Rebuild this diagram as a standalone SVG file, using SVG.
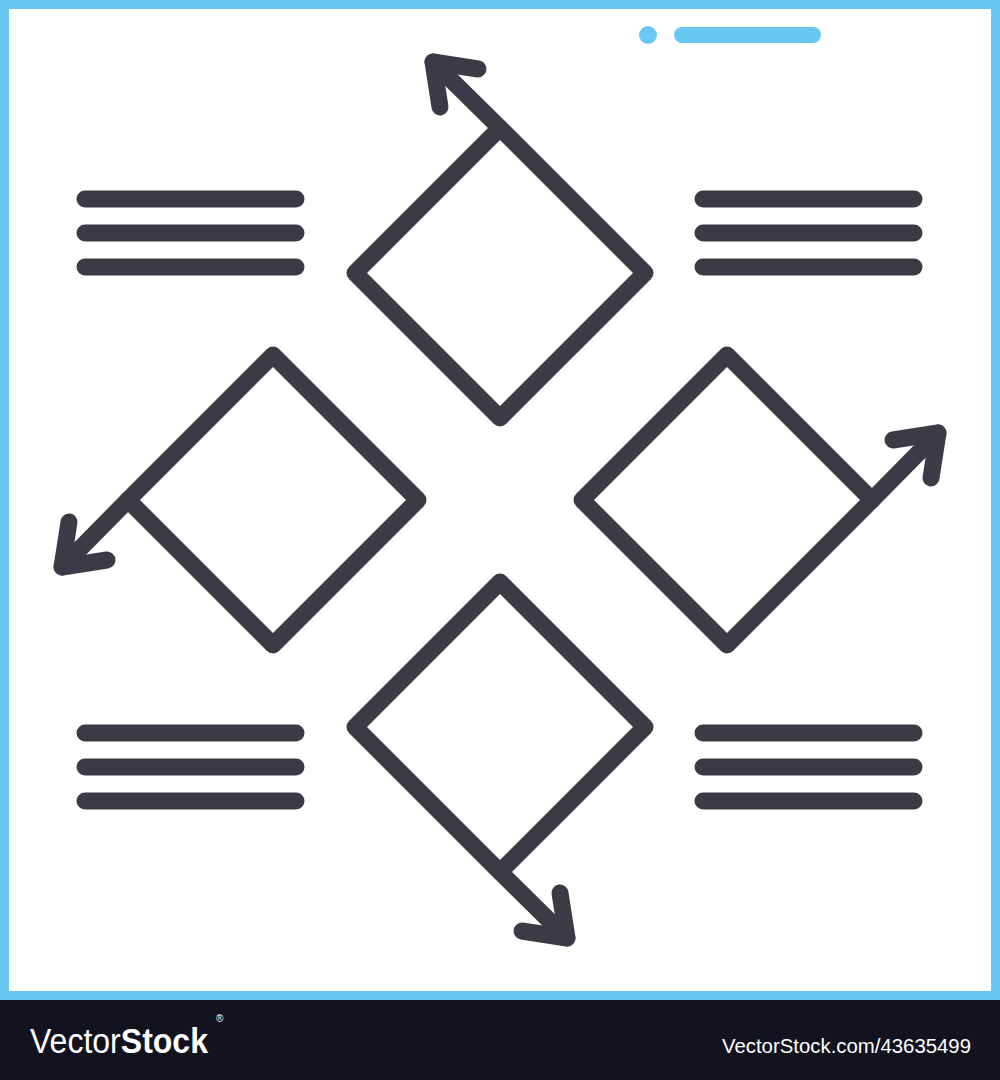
<svg xmlns="http://www.w3.org/2000/svg" width="1000" height="1080" viewBox="0 0 1000 1080">
<style>
.ln{fill:none;stroke:#3c3a45;stroke-width:17;stroke-linecap:round;stroke-linejoin:round}
.bl{fill:#68c8f2}
.ft{font-family:"Liberation Sans",Arial,sans-serif;fill:#ffffff}
</style>
<defs>
<g id="txt"><line x1="85" y1="0" x2="296" y2="0"/><line x1="85" y1="34" x2="296" y2="34"/><line x1="85" y1="68" x2="296" y2="68"/></g>
</defs>
<rect x="4.5" y="4.5" width="991" height="991" fill="#ffffff" stroke="#68c8f2" stroke-width="9"/>
<circle class="bl" cx="648" cy="35" r="9"/>
<rect class="bl" x="674" y="27" width="147" height="16" rx="8"/>
<g id="node-top" class="ln"><polygon points="500,128 645,273 500,418 355,273"/></g>
<g id="node-right" class="ln"><polygon points="727,355 872,500 727,645 582,500"/></g>
<g id="node-bottom" class="ln"><polygon points="500,582 645,727 500,872 355,727"/></g>
<g id="node-left" class="ln"><polygon points="273,355 418,500 273,645 128,500"/></g>
<g id="connectors" class="ln">
<g id="arrow-top"><line x1="500" y1="128" x2="433" y2="62"/><polyline points="478,69 433,62 440,107"/></g>
<g id="arrow-right" transform="rotate(90 500 500)"><line x1="500" y1="128" x2="433" y2="62"/><polyline points="478,69 433,62 440,107"/></g>
<g id="arrow-bottom" transform="rotate(180 500 500)"><line x1="500" y1="128" x2="433" y2="62"/><polyline points="478,69 433,62 440,107"/></g>
<g id="arrow-left" transform="rotate(270 500 500)"><line x1="500" y1="128" x2="433" y2="62"/><polyline points="478,69 433,62 440,107"/></g>
</g>
<g id="text-tl" class="ln"><use href="#txt" y="199"/></g>
<g id="text-tr" class="ln"><use href="#txt" x="618" y="199"/></g>
<g id="text-bl" class="ln"><use href="#txt" y="733"/></g>
<g id="text-br" class="ln"><use href="#txt" x="618" y="733"/></g>
<rect x="0" y="1000" width="1000" height="80" fill="#12131f"/>
<text class="ft" x="30" y="1053" font-size="35" textLength="178" lengthAdjust="spacingAndGlyphs"><tspan font-weight="300">Vector</tspan><tspan font-weight="bold">Stock</tspan></text>
<text class="ft" x="216" y="1022" font-size="10">®</text>
<text class="ft" x="722" y="1053" font-size="20" textLength="249" lengthAdjust="spacingAndGlyphs">VectorStock.com/43635499</text>
</svg>
